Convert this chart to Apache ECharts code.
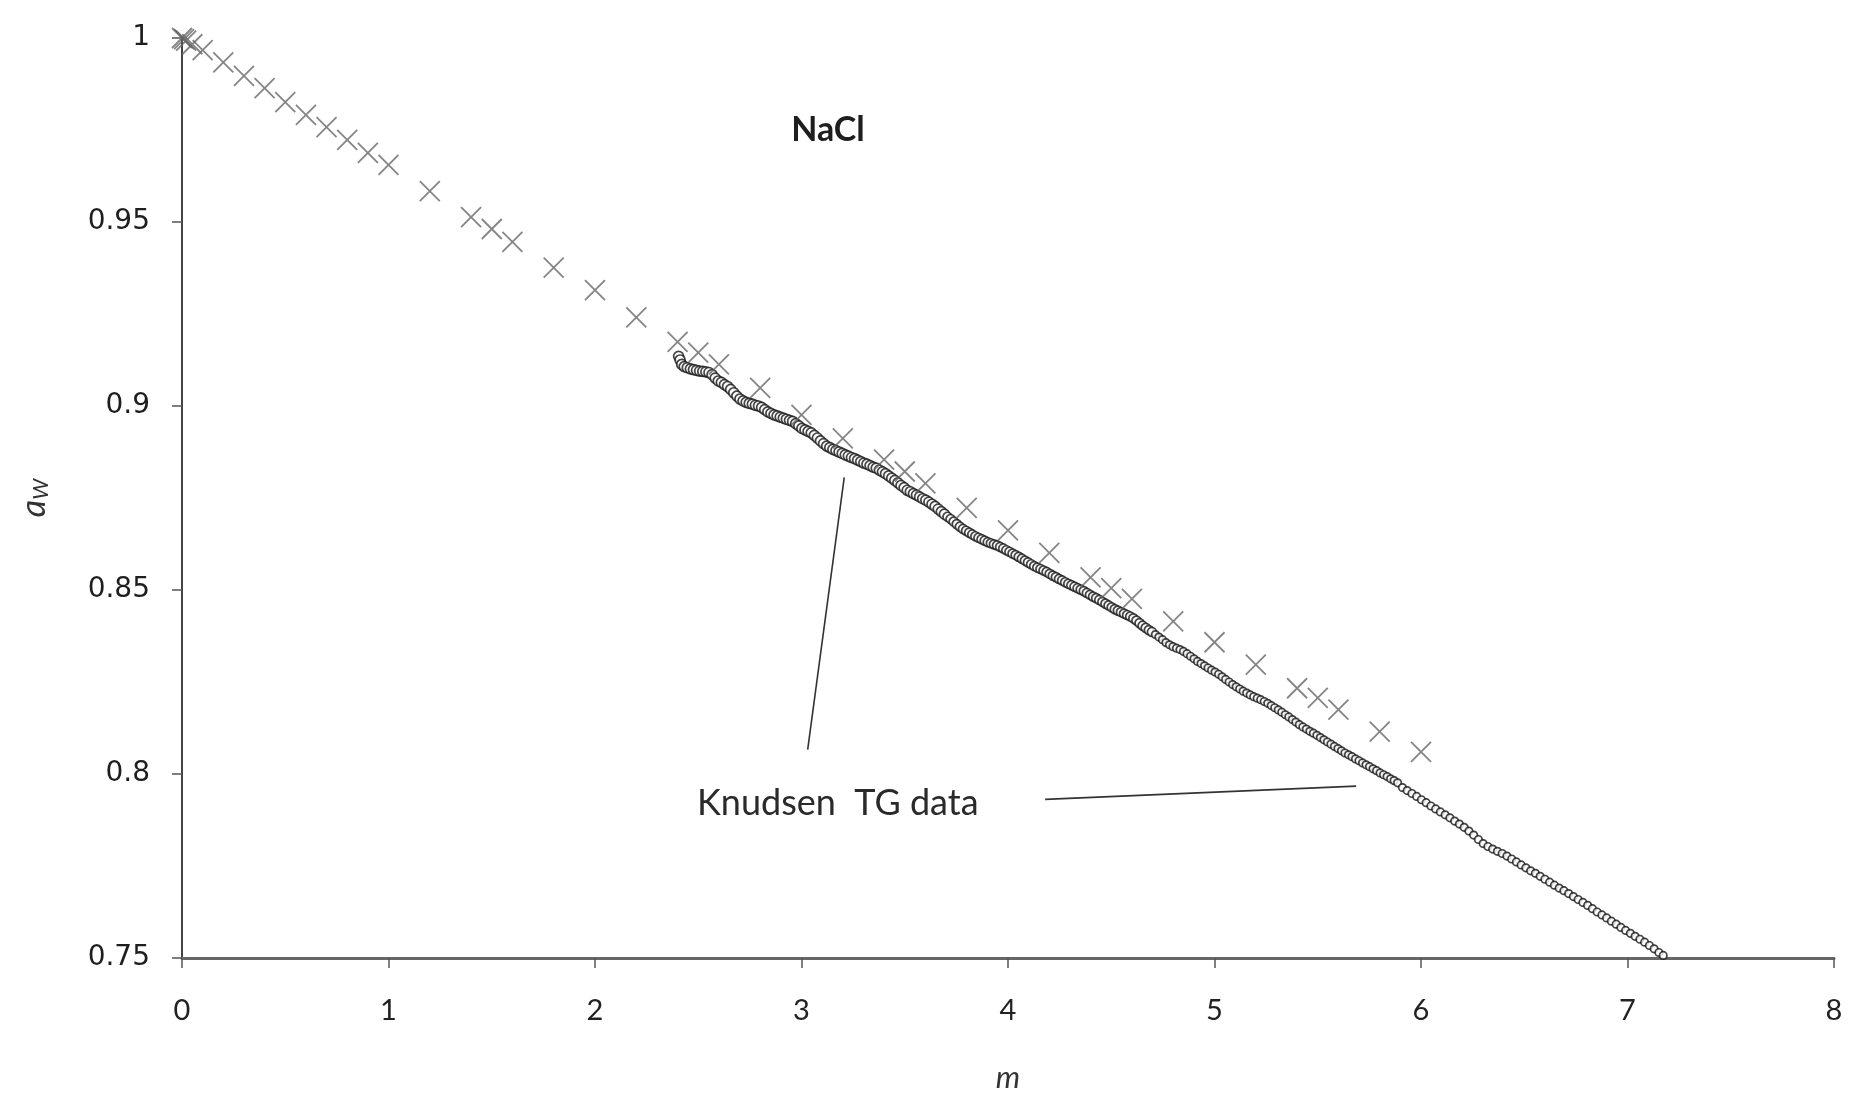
<!DOCTYPE html>
<html>
<head>
<meta charset="utf-8">
<script src="https://cdn.jsdelivr.net/npm/echarts@6/dist/echarts.min.js"></script>
<style>html,body{margin:0;padding:0;background:#fff}#c{width:1854px;height:1098px}</style>
</head>
<body>
<div id="c"></div>
<script>
// Literature / reference values (crosses)
var crossM  = [0,0.01,0.02,0.05,0.1,0.2,0.3,0.4,0.5,0.6,0.7,0.8,0.9,1.0,1.2,1.4,1.5,1.6,1.8,2.0,2.2,2.4,2.5,2.6,2.8,3.0,3.2,3.4,3.5,3.6,3.8,4.0,4.2,4.4,4.5,4.6,4.8,5.0,5.2,5.4,5.5,5.6,5.8,6.0];
var crossAw = [1.0,0.9997,0.9993,0.9983,0.9967,0.9934,0.9897,0.9864,0.9826,0.9791,0.9758,0.9723,0.9688,0.9655,0.9584,0.9513,0.9481,0.9446,0.9376,0.9315,0.9241,0.9174,0.9145,0.9113,0.9049,0.8976,0.8912,0.8854,0.8822,0.879,0.8723,0.8662,0.8601,0.8534,0.8505,0.8476,0.8415,0.8358,0.8297,0.8233,0.8207,0.8175,0.8115,0.806];

// Knudsen TG data (open circles), read in four stretches
var tgM1  = [2.405,2.412,2.420,2.432,2.447,2.462,2.477,2.492,2.507,2.522,2.537,2.552,2.567,2.582,2.597,2.612,2.627,2.642,2.657,2.672,2.687,2.702,2.717,2.732,2.747,2.762,2.777,2.792,2.807,2.822,2.837,2.852,2.867,2.882,2.897,2.912,2.927,2.942,2.957,2.972,2.987,3.002,3.017,3.032,3.047,3.062,3.077,3.092,3.107,3.122,3.137,3.152,3.167,3.182,3.197,3.212,3.227,3.242,3.257,3.272,3.287,3.302,3.317,3.332,3.347,3.362,3.377,3.392,3.407,3.422,3.437,3.452,3.467,3.482,3.497,3.512,3.527,3.542,3.557,3.572,3.587];
var tgAw1 = [0.9135,0.9125,0.9113,0.9107,0.9104,0.9101,0.9099,0.9097,0.9095,0.9094,0.9093,0.9091,0.9085,0.9076,0.9068,0.9064,0.9058,0.9053,0.9045,0.9036,0.9027,0.9019,0.9014,0.9010,0.9007,0.9005,0.9002,0.9000,0.8996,0.8990,0.8984,0.8980,0.8976,0.8973,0.8970,0.8967,0.8964,0.8961,0.8958,0.8952,0.8946,0.8939,0.8935,0.8931,0.8927,0.8920,0.8913,0.8905,0.8898,0.8891,0.8887,0.8882,0.8879,0.8875,0.8871,0.8867,0.8864,0.8860,0.8857,0.8853,0.8849,0.8845,0.8842,0.8838,0.8834,0.8831,0.8826,0.8821,0.8816,0.8810,0.8804,0.8798,0.8791,0.8784,0.8778,0.8771,0.8767,0.8762,0.8758,0.8753,0.8748];
var tgM2  = [3.602,3.617,3.632,3.647,3.662,3.677,3.692,3.707,3.722,3.737,3.752,3.767,3.782,3.797,3.812,3.827,3.842,3.857,3.872,3.887,3.902,3.917,3.932,3.947,3.962,3.977,3.992,4.007,4.022,4.037,4.052,4.067,4.082,4.097,4.112,4.127,4.142,4.157,4.172,4.187,4.202,4.217,4.232,4.247,4.262,4.277,4.292,4.307,4.322,4.337,4.352,4.367,4.382,4.397,4.412,4.427,4.442,4.457,4.472,4.487,4.502,4.517,4.532,4.547,4.562,4.577,4.592,4.607,4.622,4.637,4.652,4.667,4.682,4.697];
var tgAw2 = [0.8744,0.8739,0.8733,0.8727,0.8720,0.8713,0.8706,0.8699,0.8693,0.8686,0.8679,0.8672,0.8666,0.8661,0.8656,0.8651,0.8646,0.8642,0.8638,0.8634,0.8630,0.8627,0.8624,0.8621,0.8617,0.8613,0.8608,0.8604,0.8599,0.8595,0.8590,0.8585,0.8580,0.8575,0.8570,0.8565,0.8561,0.8557,0.8553,0.8549,0.8544,0.8539,0.8535,0.8530,0.8526,0.8521,0.8517,0.8513,0.8509,0.8505,0.8501,0.8497,0.8492,0.8487,0.8482,0.8478,0.8473,0.8468,0.8463,0.8458,0.8453,0.8448,0.8444,0.8440,0.8436,0.8432,0.8428,0.8423,0.8417,0.8410,0.8403,0.8397,0.8391,0.8386];
var tgM3  = [4.714,4.731,4.748,4.765,4.782,4.799,4.816,4.833,4.850,4.867,4.884,4.901,4.918,4.935,4.952,4.969,4.986,5.003,5.020,5.037,5.054,5.071,5.088,5.105,5.122,5.139,5.156,5.173,5.190,5.207,5.224,5.241,5.258,5.275,5.292,5.309,5.326,5.343,5.360,5.377,5.394,5.411,5.428,5.445,5.462,5.479,5.496,5.513,5.530,5.547,5.564,5.581,5.598,5.615,5.632,5.649,5.666,5.683,5.700,5.717,5.734,5.751,5.768,5.785,5.802,5.819,5.836,5.853,5.870,5.887];
var tgAw3 = [0.8379,0.8372,0.8365,0.8357,0.8351,0.8346,0.8342,0.8338,0.8333,0.8327,0.8320,0.8313,0.8306,0.8300,0.8294,0.8288,0.8282,0.8277,0.8271,0.8264,0.8257,0.8250,0.8243,0.8237,0.8231,0.8225,0.8220,0.8215,0.8210,0.8206,0.8202,0.8197,0.8192,0.8186,0.8180,0.8174,0.8168,0.8161,0.8155,0.8148,0.8141,0.8134,0.8128,0.8122,0.8116,0.8111,0.8105,0.8099,0.8093,0.8087,0.8081,0.8075,0.8069,0.8063,0.8057,0.8052,0.8047,0.8041,0.8036,0.8030,0.8025,0.8020,0.8014,0.8009,0.8003,0.7998,0.7993,0.7987,0.7982,0.7976];
var tgM4  = [5.910,5.933,5.956,5.979,6.002,6.025,6.048,6.071,6.094,6.117,6.140,6.163,6.186,6.209,6.232,6.255,6.278,6.301,6.324,6.347,6.370,6.393,6.416,6.439,6.462,6.485,6.508,6.531,6.554,6.577,6.600,6.623,6.646,6.669,6.692,6.715,6.738,6.761,6.784,6.807,6.830,6.853,6.876,6.899,6.922,6.945,6.968,6.991,7.014,7.037,7.060,7.083,7.106,7.129,7.152,7.173];
var tgAw4 = [0.7963,0.7955,0.7947,0.7939,0.7930,0.7922,0.7913,0.7905,0.7897,0.7889,0.7881,0.7872,0.7864,0.7855,0.7845,0.7834,0.7822,0.7811,0.7803,0.7796,0.7790,0.7784,0.7777,0.7769,0.7761,0.7753,0.7745,0.7737,0.7730,0.7722,0.7714,0.7706,0.7698,0.7690,0.7683,0.7675,0.7667,0.7659,0.7651,0.7643,0.7634,0.7625,0.7617,0.7609,0.7600,0.7592,0.7583,0.7575,0.7567,0.7559,0.7551,0.7543,0.7534,0.7525,0.7515,0.7507];

// leader lines of the "Knudsen TG data" label (data coordinates)
var leader1M = [3.030, 3.207], leader1Aw = [0.8066, 0.8806];
var leader2M = [4.180, 5.686], leader2Aw = [0.7931, 0.7967];

var xTicks = [0,1,2,3,4,5,6,7,8];
var yTicks = [0.75,0.8,0.85,0.9,0.95,1];

function zip(a, b) { var o = []; for (var i = 0; i < Math.min(a.length, b.length); i++) o.push([a[i], b[i]]); return o; }
var tgData = zip(tgM1, tgAw1).concat(zip(tgM2, tgAw2), zip(tgM3, tgAw3), zip(tgM4, tgAw4));

var chart = echarts.init(document.getElementById('c'), null, {renderer: 'canvas'});
chart.setOption({
  backgroundColor: '#ffffff',
  animation: false,
  grid: {left: 182, right: 20, top: 38, bottom: 137, containLabel: false},
  xAxis: {
    type: 'value', min: xTicks[0], max: xTicks[xTicks.length - 1], interval: 1,
    name: 'm', nameLocation: 'middle', nameGap: 104,
    nameTextStyle: {fontFamily: 'Lato', fontStyle: 'italic', fontSize: 31, color: '#333'},
    axisLine: {show: true, lineStyle: {color: '#666', width: 3}},
    axisTick: {show: true, inside: false, length: 10, lineStyle: {color: '#555', width: 1.5}},
    axisLabel: {margin: 38, fontFamily: 'Lato', fontSize: 29, color: '#222'},
    splitLine: {show: false}
  },
  yAxis: {
    type: 'value', min: yTicks[0], max: yTicks[yTicks.length - 1], interval: 0.05,
    name: '{a|a}{w|W}', nameLocation: 'middle', nameGap: 130, nameRotate: 90,
    nameTextStyle: {rich: {
      a: {fontFamily: 'Lato', fontStyle: 'italic', fontSize: 34, color: '#333'},
      w: {fontFamily: 'Lato', fontStyle: 'italic', fontSize: 22, color: '#333', padding: [14, 0, 0, 0]}
    }},
    axisLine: {show: true, lineStyle: {color: '#444', width: 2}},
    axisTick: {show: true, inside: false, length: 10, lineStyle: {color: '#555', width: 1.5}},
    axisLabel: {margin: 32, fontFamily: 'DejaVu Sans', fontSize: 28, color: '#1e1e1e'},
    splitLine: {show: false}
  },
  graphic: [
    {type: 'text', x: 828, y: 130, style: {text: 'NaCl', font: 'bold 34px Lato', fill: '#1e1e1e', align: 'center', verticalAlign: 'middle'}},
    {type: 'text', x: 697, y: 803, style: {text: 'Knudsen  TG data', font: '36px Lato', fill: '#2a2a2a', align: 'left', verticalAlign: 'middle'}}
  ],
  series: [
    {type: 'line', data: zip(leader1M, leader1Aw), symbol: 'none', silent: true, lineStyle: {color: '#333', width: 1.6}, z: 1},
    {type: 'line', data: zip(leader2M, leader2Aw), symbol: 'none', silent: true, lineStyle: {color: '#333', width: 1.6}, z: 1},
    {type: 'scatter', name: 'Knudsen TG data', data: tgData, symbol: 'circle', clip: false,
     symbolSize: function (v) { return v[0] < 3.7 ? 10 : (v[0] < 4.7 ? 9 : 7.5); },
     itemStyle: {color: '#ffffff', borderColor: '#151515', borderWidth: 1.7}, z: 2},
    {type: 'scatter', name: 'reference', data: zip(crossM, crossAw), symbol: 'path://M0,0L10,10M10,0L0,10', symbolSize: 20, clip: false,
     itemStyle: {color: 'none', borderColor: '#666', borderWidth: 1.8}, z: 3}
  ]
});
</script>
</body>
</html>
